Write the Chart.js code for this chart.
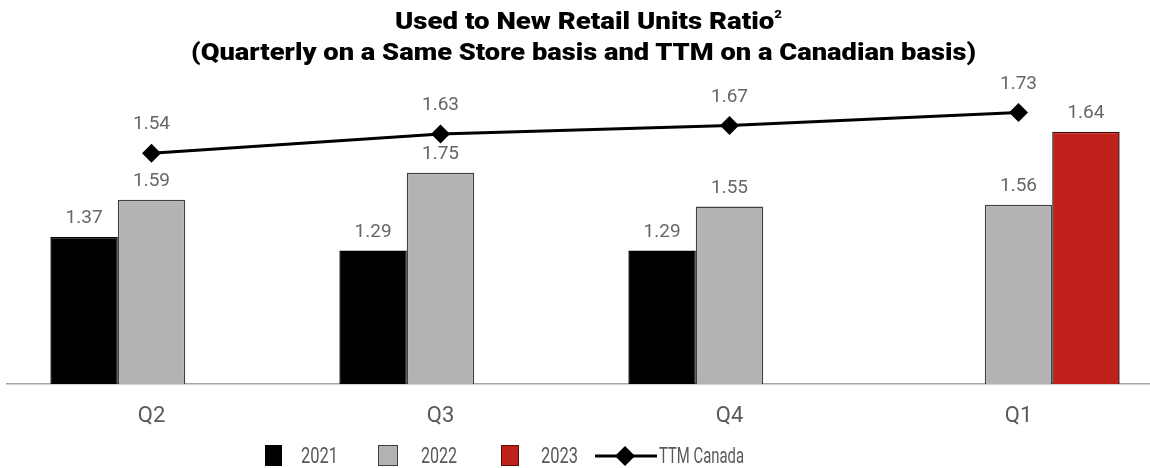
<!DOCTYPE html>
<html lang="en">

<head>
    <meta charset="UTF-8">
    <title>Used to New Retail Units Ratio</title>
    <style>
        body {
            margin: 0;
            padding: 0;
            background: #fff;
            width: 1150px;
            height: 468px;
            overflow: hidden;
            position: relative;
            font-family: Roboto, Arial, sans-serif;
        }

        .wrap {
            position: absolute;
            left: 0;
            top: 0;
            width: 1163px;
            height: 468px;
        }

        .title-line {
            position: absolute;
            left: 0;
            white-space: nowrap;
            font-weight: 900;
            font-size: 23px;
            line-height: 32px;
            color: #000;
            transform-origin: left center;
        }

        .title-line sup {
            font-size: 11px;
            vertical-align: 11px;
            line-height: 0;
        }

        .legend-box {
            position: absolute;
            top: 445px;
            height: 21px;
            box-sizing: border-box;
        }

        .legend-text {
            position: absolute;
            top: 442px;
            font-size: 22px;
            line-height: 28px;
            color: #595959;
            white-space: nowrap;
            transform-origin: left center;
        }
    </style>
    <script src="https://cdn.jsdelivr.net/npm/chart.js"></script>
</head>

<body>
    <div class="wrap">
        <canvas id="ratioChart" width="1163" height="468"></canvas>
    </div>

    <div class="title-line" id="t1" data-left="395" data-width="387" style="top:6px">Used to New Retail Units Ratio<sup>2</sup></div>
    <div class="title-line" id="t2" data-left="191" data-width="785" style="top:37px">(Quarterly on a Same Store basis and TTM on a Canadian basis)</div>

    <!-- legend -->
    <div class="legend-box" style="left:265px;width:17px;background:#000"></div>
    <div class="legend-text" data-left="301" data-width="37">2021</div>
    <div class="legend-box" style="left:378px;width:20px;background:#b3b3b3;border:1.5px solid #404040"></div>
    <div class="legend-text" data-left="421" data-width="36">2022</div>
    <div class="legend-box" style="left:501px;width:18px;background:#c0211a;border:1.5px solid #5a0f0c"></div>
    <div class="legend-text" data-left="541" data-width="37">2023</div>
    <svg style="position:absolute;left:595px;top:446px" width="62" height="20">
        <line x1="0" y1="10" x2="62" y2="10" stroke="#000" stroke-width="3" />
        <polygon points="30,0 40,10 30,20 20,10" fill="#000" />
    </svg>
    <div class="legend-text" data-left="659" data-width="85">TTM Canada</div>

    <script>
        // data
        const quarters = ['Q2', 'Q3', 'Q4', 'Q1'];
        const units2021 = [1.37, 1.29, 1.29, null];
        const units2022 = [1.59, 1.75, 1.55, 1.56];
        const units2023 = [null, null, null, 1.64];
        const ttmCanada = [1.54, 1.63, 1.67, 1.73];

        // squeeze text blocks to the widths measured on the picture
        document.querySelectorAll('[data-width]').forEach(el => {
            const w = el.getBoundingClientRect().width;
            const target = parseFloat(el.dataset.width);
            el.style.left = el.dataset.left + 'px';
            el.style.transform = 'scaleX(' + (target / w) + ')';
        });

        // labels above bars and points
        const valueLabels = {
            id: 'valueLabels',
            afterDatasetsDraw(chart) {
                const ctx = chart.ctx;
                ctx.save();
                ctx.font = '19px Roboto, Arial, sans-serif';
                ctx.fillStyle = '#666666';
                ctx.textAlign = 'center';
                ctx.textBaseline = 'bottom';
                chart.data.datasets.forEach((ds, i) => {
                    const meta = chart.getDatasetMeta(i);
                    const gap = ds.type === 'line' ? 19 : 9;
                    meta.data.forEach((el, j) => {
                        const v = ds.data[j];
                        if (v === null) return;
                        ctx.fillText(v.toFixed(2), el.x, el.y - gap);
                    });
                });
                ctx.restore();
            }
        };

        const ctx = document.getElementById('ratioChart').getContext('2d');
        new Chart(ctx, {
            type: 'bar',
            data: {
                labels: quarters,
                datasets: [{
                    label: 'TTM Canada',
                    type: 'line',
                    data: ttmCanada,
                    yAxisID: 'y2',
                    borderColor: '#000',
                    borderWidth: 3,
                    pointStyle: 'rectRot',
                    pointRadius: 9.5,
                    pointBackgroundColor: '#000',
                    pointBorderWidth: 0,
                    tension: 0,
                    order: 0
                }, {
                    label: '2021',
                    data: units2021,
                    yAxisID: 'y',
                    backgroundColor: '#000',
                    borderColor: '#000',
                    borderWidth: 1.5,
                    order: 1
                }, {
                    label: '2022',
                    data: units2022,
                    yAxisID: 'y',
                    backgroundColor: '#b3b3b3',
                    borderColor: '#404040',
                    borderWidth: 1.5,
                    order: 1
                }, {
                    label: '2023',
                    data: units2023,
                    yAxisID: 'y2',
                    backgroundColor: '#c0211a',
                    borderColor: '#3d0a08',
                    borderWidth: 1.5,
                    order: 1
                }]
            },
            options: {
                responsive: false,
                animation: false,
                events: [],
                categoryPercentage: 0.7,
                barPercentage: 1.0,
                layout: { autoPadding: false, padding: { left: 7, right: 0, top: 100, bottom: 0 } },
                plugins: {
                    legend: { display: false },
                    title: { display: false },
                    tooltip: { enabled: false }
                },
                scales: {
                    x: {
                        grid: { display: false, drawTicks: false },
                        border: { display: true, color: '#a6a6a6', width: 1.5 },
                        ticks: {
                            color: '#595959',
                            font: { family: 'Roboto, Arial, sans-serif', size: 22 },
                            padding: 19
                        },
                        afterFit: (scale) => { scale.height = 84; }
                    },
                    y: { display: false, min: 0.5, max: 2.1805 },
                    y2: { display: false, min: 0.46, max: 1.789 }
                }
            },
            plugins: [valueLabels]
        });
    </script>
</body>

</html>
